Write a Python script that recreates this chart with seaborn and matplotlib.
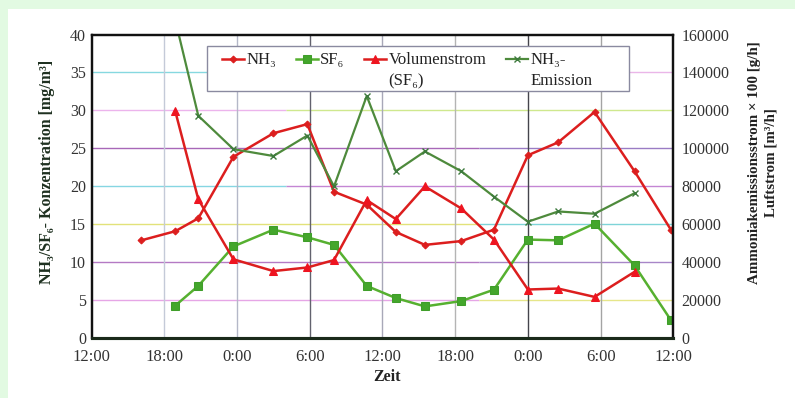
import matplotlib
matplotlib.use("Agg")
import matplotlib.pyplot as plt
import numpy as np
import seaborn as sns
from matplotlib.patches import Rectangle

# Messzeitpunkte in Stunden ab 12:00 des ersten Tages
hours = [4.1, 6.9, 8.8, 11.7, 15.0, 17.8, 20.0, 22.7, 25.1, 27.5, 30.5,
         33.2, 36.0, 38.5, 41.5, 44.8, 47.8]

# Konzentrationen [mg/m3] (linke Achse)
nh3 = [12.9, 14.1, 15.8, 23.9, 27.0, 28.2, 19.3, 17.6, 14.0, 12.3, 12.8,
       14.3, 24.1, 25.8, 29.8, 22.0, 14.3]
sf6 = [np.nan, 4.3, 6.9, 12.1, 14.3, 13.3, 12.3, 6.9, 5.3, 4.2, 4.9,
       6.4, 13.0, 12.9, 15.1, 9.6, 2.4]

# Volumenstrom [m3/h] und NH3-Emission x 100 [g/h] (rechte Achse)
volumenstrom = [np.nan, 119600, 73200, 41600, 35400, 37300, 41200, 72800,
                62800, 80000, 68400, 52000, 25700, 26200, 21800, 35000, np.nan]
emission = [np.nan, 167600, 117200, 99600, 96000, 106800, 80000, 127600,
            88000, 98400, 88000, 74600, 61400, 66800, 65600, 76400, np.nan]

x_ticks = list(range(0, 49, 6))
x_tick_labels = ["12:00", "18:00", "0:00", "6:00", "12:00", "18:00",
                 "0:00", "6:00", "12:00"]
left_ticks = list(range(0, 41, 5))
right_ticks = list(range(0, 160001, 20000))

# Farben der Gitterlinien (wie im Scan, links/rechts unterschiedlich)
hgrid = [(5, "#e6a6e6", "#e6e68a", 32), (10, "#b47ac4", "#a886c8", 32),
         (15, "#e2e27a", "#7ed4d8", 32), (20, "#86d6e2", "#c486d4", 16),
         (25, "#a868b8", "#9a7cc4", 32), (30, "#ecb4ec", "#cfe88e", 16),
         (35, "#86d8e0", "#eab6e8", 24)]
vgrid_colors = ["#c4cad8", "#b4b8c8", "#62626e", "#a8a8b8", "#b4b4b4",
                "#44444c", "#a4a4a4"]

plt.rcParams["font.family"] = ["Liberation Serif", "DejaVu Serif"]

fig = plt.figure(figsize=(7.95, 3.98), dpi=100, facecolor="#e2fae2")
fig.patches.append(Rectangle((8 / 795, 0), 1, 1 - 9 / 398, transform=fig.transFigure,
                             facecolor="white", edgecolor="none", zorder=-1))
ax = fig.add_axes([0.1153, 0.15, 0.7316, 0.7633])
ax2 = ax.twinx()

# Gitter
for level, c_left, c_right, split in hgrid:
    ax.hlines(level, 0, split, color=c_left, lw=1.0, zorder=0.5)
    ax.hlines(level, split, 48, color=c_right, lw=1.0, zorder=0.5)
for xt, c in zip(x_ticks[1:-1], vgrid_colors):
    ax.axvline(xt, color=c, lw=1.0, zorder=0.5)

red = "#dc1e1e"
green = "#56b030"
dark_green = "#4e8a3c"

sns.lineplot(x=hours, y=nh3, ax=ax, color=red, lw=1.8, marker="D", markersize=3.5,
             markeredgecolor=red, label="NH₃", legend=False)
sns.lineplot(x=hours, y=sf6, ax=ax, color=green, lw=1.8, marker="s", markersize=5.5,
             markeredgecolor="#3f9e2a", markerfacecolor="#44a62c", label="SF₆", legend=False)
sns.lineplot(x=hours, y=volumenstrom, ax=ax2, color=red, lw=1.8, marker="^", markersize=6,
             markeredgecolor="#ee1420", markerfacecolor="#ee1420",
             label="Volumenstrom\n(SF₆)", legend=False)
sns.lineplot(x=hours, y=emission, ax=ax2, color=dark_green, lw=1.6, marker="x", markersize=5,
             markeredgewidth=1.0, markeredgecolor="#3d7a3d", label="NH₃-\nEmission", legend=False)

ax.set_xlim(0, 48)
ax.set_ylim(0, 40)
ax2.set_ylim(0, 160000)
ax.set_xticks(x_ticks)
ax.set_xticklabels(x_tick_labels)
ax.set_yticks(left_ticks)
ax2.set_yticks(right_ticks)
ax2.set_yticklabels([str(v) for v in right_ticks])
ax.tick_params(axis="x", length=0, pad=7.5, labelsize=12, labelcolor="#333333")
ax.tick_params(axis="y", length=0, pad=4, labelsize=11.5, labelcolor="#333333")
ax2.tick_params(axis="y", length=0, pad=6, labelsize=11.5, labelcolor="#333333")

for a in (ax, ax2):
    for sp in a.spines.values():
        sp.set_color("#111111")
        sp.set_linewidth(1.6)
    a.spines["bottom"].set_linewidth(2.2)
    a.spines["bottom"].set_color("#1a2a1a")

ax.set_xlabel("Zeit", fontsize=11.5, fontweight="bold", color="#222222")
ax.xaxis.set_label_coords(0.508, -0.101)
ax.set_ylabel("NH₃/SF₆- Konzentration [mg/m³]", fontsize=11.5, fontweight="bold",
              color="#1e3020", ha="center", va="center")
ax.yaxis.set_label_coords(-0.0769, 0.547)
ax2.set_ylabel("Ammoniakemissionsstrom × 100 [g/h]\nLuftstrom [m³/h]", fontsize=10.8,
               fontweight="bold", color="#222222", rotation=90, ha="center", va="center",
               multialignment="center", linespacing=1.3)
ax2.yaxis.set_label_coords(1.154, 0.577)

# Legendenrahmen separat, Inhalt oben ausgerichtet
ax2.add_patch(Rectangle((0.1988, 0.815), 0.7255, 0.148, transform=ax2.transAxes,
                        facecolor="white", edgecolor="#8a8aa0", lw=1.0, zorder=9,
                        clip_on=False))
handles = [h for h in ax.get_lines() if not h.get_label().startswith("_")] + \
          [h for h in ax2.get_lines() if not h.get_label().startswith("_")]
leg = ax2.legend(handles=handles, labels=[h.get_label() for h in handles],
                 loc="upper left", bbox_to_anchor=(0.224, 0.941), ncol=4, fontsize=12,
                 frameon=False, borderpad=0, handlelength=1.3, handleheight=1.1,
                 handletextpad=0.15, columnspacing=1.2, borderaxespad=0)
leg.set_zorder(10)
for t in leg.get_texts():
    t.set_linespacing(1.4)
    t.set_color("#222222")
leg._legend_handle_box.align = "top"
for col in leg._legend_handle_box.get_children():
    col.align = "top"
    for item in col.get_children():
        item.align = "top"

fig.savefig("out.png", dpi=100, facecolor=fig.get_facecolor())
